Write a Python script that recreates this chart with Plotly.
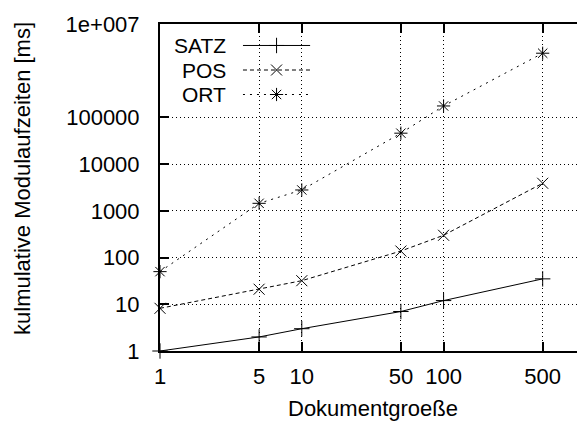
import plotly.graph_objects as go

# Data
doc_sizes = [1, 5, 10, 50, 100, 500]
satz = [1, 2, 3, 7, 12, 35]
pos = [8.2, 21, 32, 138, 300, 3900]
ort = [50, 1450, 2800, 46000, 176000, 2370000]

series_names = ["SATZ", "POS", "ORT"]
series_vals = [satz, pos, ort]
series_dash = ["solid", "4px,3px", "2px,5px"]
series_symbol = ["cross-thin", "x-thin", "asterisk"]

y_tickvals = [1, 10, 100, 1000, 10000, 100000, 10000000]
y_ticktext = ["1", "10", "100", "1000", "10000", "100000", "1e+007"]
x_tickvals = [1, 5, 10, 50, 100, 500]
x_ticktext = ["1", "5", "10", "50", "100", "500"]

FONT = "Liberation Sans, Arial, Helvetica, sans-serif"
FS = 22

fig = go.Figure()

for name, vals, dash, sym in zip(series_names, series_vals, series_dash, series_symbol):
    fig.add_trace(go.Scatter(
        x=doc_sizes, y=vals, mode="lines+markers", name=name,
        line=dict(color="black", width=1, dash=dash),
        marker=dict(symbol=sym, size=11, color="black",
                    line=dict(color="black", width=1)),
        showlegend=False, cliponaxis=False,
    ))

# Manual gnuplot-style key (text left, sample right)
leg_y = [0.9343, 0.8593, 0.7844]
for name, dash, sym, yy in zip(series_names, series_dash, series_symbol, leg_y):
    fig.add_trace(go.Scatter(
        x=[0.199, 0.36], y=[yy, yy], mode="lines", xaxis="x2", yaxis="y2",
        line=dict(color="black", width=1, dash=dash), showlegend=False,
        hoverinfo="skip",
    ))
    fig.add_trace(go.Scatter(
        x=[0.2795], y=[yy], mode="markers", xaxis="x2", yaxis="y2",
        marker=dict(symbol=sym, size=11, color="black",
                    line=dict(color="black", width=1)),
        showlegend=False, hoverinfo="skip",
    ))
    fig.add_annotation(
        x=0.1607, y=yy, xref="paper", yref="paper", text=name,
        showarrow=False, xanchor="right", yanchor="middle",
        borderpad=0,
        font=dict(family=FONT, size=21, color="black"),
    )

# opaque key area hiding the grid
fig.add_shape(type="rect", xref="paper", yref="paper",
              x0=0.004, x1=0.372, y0=0.749, y1=0.969,
              fillcolor="white", line=dict(width=0), layer="between")

# axis titles
fig.add_annotation(x=0.511, y=-0.175, xref="paper", yref="paper",
                   text="Dokumentgroeße", showarrow=False,
                   xanchor="center", yanchor="middle",
                   font=dict(family=FONT, size=FS, color="black"))
fig.add_annotation(x=-0.331, y=0.529, xref="paper", yref="paper",
                   text="kulmulative Modulaufzeiten [ms]", showarrow=False,
                   textangle=-90, xanchor="center", yanchor="middle",
                   font=dict(family=FONT, size=FS, color="black"))

fig.update_layout(
    width=577, height=421,
    margin=dict(l=160, r=0, t=24, b=70),
    paper_bgcolor="white", plot_bgcolor="white",
    font=dict(family=FONT, size=FS, color="black"),
    xaxis=dict(
        type="log", range=[0, 2.941],
        tickvals=x_tickvals, ticktext=x_ticktext,
        ticks="inside", ticklen=9, tickwidth=1.5, tickcolor="black",
        showline=True, linecolor="black", linewidth=2, mirror="ticks",
        showgrid=True, gridcolor="black", gridwidth=1, griddash="1px,3px",
        zeroline=False, ticklabelstandoff=5,
        tickfont=dict(family=FONT, size=FS, color="black"),
    ),
    yaxis=dict(
        type="log", range=[0, 7],
        tickvals=y_tickvals, ticktext=y_ticktext,
        ticks="inside", ticklen=9, tickwidth=1.5, tickcolor="black",
        showline=True, linecolor="black", linewidth=2,
        showgrid=True, gridcolor="black", gridwidth=1, griddash="1px,3px",
        zeroline=False, ticklabelstandoff=14,
        tickfont=dict(family=FONT, size=FS, color="black"),
    ),
    xaxis2=dict(overlaying="x", anchor="y2", range=[0, 1], visible=False,
                fixedrange=True),
    yaxis2=dict(overlaying="y", anchor="x2", range=[0, 1], visible=False,
                fixedrange=True),
)

fig.write_html("out.html")
